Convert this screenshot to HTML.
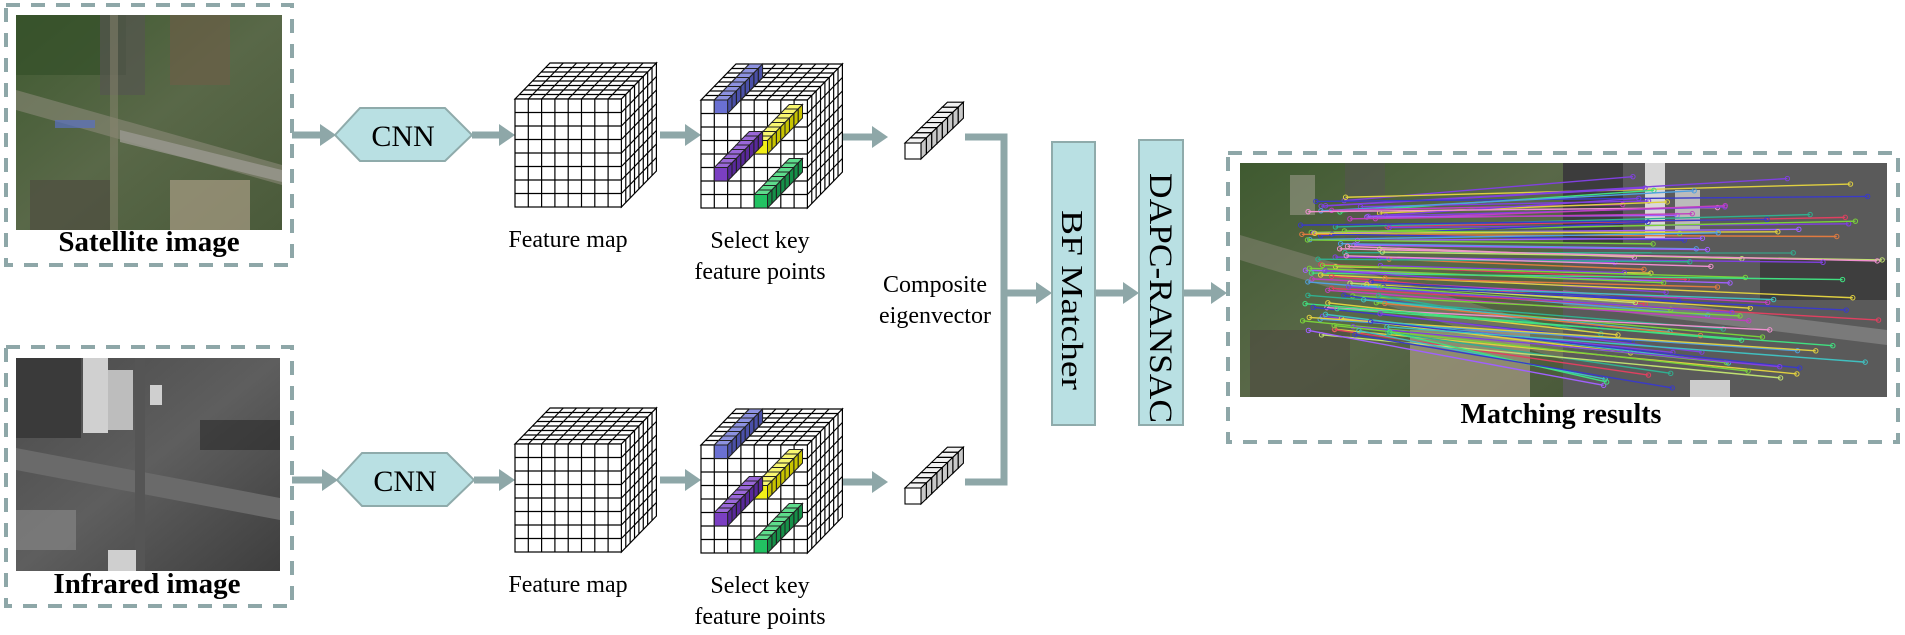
<!DOCTYPE html>
<html><head><meta charset="utf-8">
<style>
html,body{margin:0;padding:0;background:#fff;}
svg{display:block;}
text{font-family:"Liberation Serif",serif;fill:#000;}
</style></head>
<body>
<svg id="s" width="1905" height="635" viewBox="0 0 1905 635" xmlns="http://www.w3.org/2000/svg">
<defs>
<linearGradient id="satg" x1="0" y1="0" x2="1" y2="1">
<stop offset="0" stop-color="#3f5a30"/><stop offset="0.5" stop-color="#596848"/><stop offset="1" stop-color="#4a5a3a"/>
</linearGradient>
<linearGradient id="irg" x1="0" y1="0" x2="1" y2="1">
<stop offset="0" stop-color="#4a4a4a"/><stop offset="0.5" stop-color="#5e5e5e"/><stop offset="1" stop-color="#3e3e3e"/>
</linearGradient>
</defs>

<!-- Satellite box -->
<rect x="6" y="5" width="286" height="260" fill="none" stroke="#8ea7a8" stroke-width="4" stroke-dasharray="14 11"/>
<g id="sat">
<rect x="16" y="15" width="266" height="215" fill="url(#satg)"/>
<rect x="16" y="15" width="110" height="60" fill="#35502a" opacity="0.7"/>
<rect x="170" y="15" width="60" height="70" fill="#6e5e48" opacity="0.6"/>
<rect x="100" y="15" width="45" height="80" fill="#555550" opacity="0.7"/>
<polygon points="16,90 282,165 282,185 16,110" fill="#8a8878" opacity="0.6"/>
<polygon points="120,130 282,170 282,182 120,142" fill="#9a9890" opacity="0.8"/>
<rect x="110" y="15" width="8" height="215" fill="#8a8670" opacity="0.5"/>
<rect x="170" y="180" width="80" height="50" fill="#a89c84" opacity="0.7"/>
<rect x="30" y="180" width="80" height="50" fill="#4c4a40" opacity="0.6"/>
<rect x="55" y="120" width="40" height="8" fill="#5a70c0" opacity="0.7"/>
</g>
<text x="149" y="251" font-size="29" font-weight="bold" text-anchor="middle">Satellite image</text>

<!-- Infrared box -->
<rect x="6" y="347" width="286" height="259" fill="none" stroke="#8ea7a8" stroke-width="4" stroke-dasharray="14 11"/>
<g id="ir">
<rect x="16" y="358" width="264" height="213" fill="url(#irg)"/>
<rect x="83" y="358" width="25" height="75" fill="#d0d0d0"/>
<rect x="108" y="370" width="25" height="60" fill="#bdbdbd"/>
<rect x="150" y="385" width="12" height="20" fill="#cfcfcf"/>
<rect x="16" y="358" width="65" height="80" fill="#3a3a3a"/>
<polygon points="16,448 280,498 280,520 16,470" fill="#6a6a6a"/>
<rect x="135" y="358" width="10" height="213" fill="#555"/>
<rect x="16" y="510" width="60" height="40" fill="#8a8a8a" opacity="0.6"/>
<rect x="108" y="550" width="28" height="21" fill="#cfcfcf"/>
<rect x="200" y="420" width="80" height="30" fill="#2a2a2a" opacity="0.6"/>
</g>
<text x="147" y="593" font-size="29" font-weight="bold" text-anchor="middle">Infrared image</text>

<g id="dyn"></g>

<!-- Labels -->
<text x="568" y="247" font-size="24" text-anchor="middle">Feature map</text>
<text x="568" y="592" font-size="24" text-anchor="middle">Feature map</text>
<text x="760" y="248" font-size="24" text-anchor="middle">Select key</text>
<text x="760" y="279" font-size="24" text-anchor="middle">feature points</text>
<text x="760" y="593" font-size="24" text-anchor="middle">Select key</text>
<text x="760" y="624" font-size="24" text-anchor="middle">feature points</text>
<text x="935" y="292" font-size="24" text-anchor="middle">Composite</text>
<text x="935" y="323" font-size="24" text-anchor="middle">eigenvector</text>

<!-- CNN hexagons -->
<polygon points="335,135 360,108 445,108 472,135 445,161 360,161" fill="#b9e0e3" stroke="#8fabab" stroke-width="2"/>
<text x="403" y="146" font-size="30" text-anchor="middle">CNN</text>
<polygon points="337,480 362,453 447,453 474,480 447,506 362,506" fill="#b9e0e3" stroke="#8fabab" stroke-width="2"/>
<text x="405" y="491" font-size="30" text-anchor="middle">CNN</text>

<!-- connectors -->
<g fill="none" stroke="#8ea7a8" stroke-width="7">
<polyline points="965,137 1004,137 1004,482 965,482"/>
<line x1="1004" y1="293" x2="1040" y2="293"/>
</g>

<!-- BF / DAPC -->
<rect x="1052" y="142" width="43" height="283" fill="#b9e0e3" stroke="#8fabab" stroke-width="2"/>
<text transform="translate(1062,300) rotate(90)" font-size="31" text-anchor="middle" textLength="180" lengthAdjust="spacingAndGlyphs">BF Matcher</text>
<rect x="1139" y="140" width="44" height="285" fill="#b9e0e3" stroke="#8fabab" stroke-width="2"/>
<text transform="translate(1150,298) rotate(90)" font-size="33" text-anchor="middle" textLength="250" lengthAdjust="spacingAndGlyphs">DAPC-RANSAC</text>

<!-- Matching box -->
<rect x="1228" y="153" width="670" height="289" fill="none" stroke="#8ea7a8" stroke-width="4" stroke-dasharray="14 11"/>
<g id="match">
<rect x="1240" y="163" width="323" height="234" fill="url(#satg)"/>
<rect x="1290" y="175" width="25" height="40" fill="#9a9a88" opacity="0.6"/>
<rect x="1345" y="163" width="40" height="80" fill="#555550" opacity="0.6"/>
<polygon points="1240,235 1563,330 1563,360 1240,260" fill="#8a8878" opacity="0.5"/>
<rect x="1410" y="330" width="120" height="67" fill="#a89c84" opacity="0.7"/>
<rect x="1250" y="330" width="100" height="67" fill="#4c4a40" opacity="0.6"/>
<rect x="1563" y="163" width="324" height="234" fill="#5a5a5a"/>
<rect x="1645" y="163" width="20" height="75" fill="#d8d8d8"/>
<rect x="1675" y="190" width="25" height="40" fill="#bbb"/>
<rect x="1563" y="163" width="60" height="80" fill="#3c3c3c"/>
<polygon points="1563,290 1887,330 1887,345 1563,305" fill="#7a7a7a"/>
<rect x="1760" y="260" width="127" height="40" fill="#2c2c2c" opacity="0.6"/>
<rect x="1690" y="380" width="40" height="17" fill="#ccc"/>
<g id="mlines"></g>
</g>
<text x="1561" y="423" font-size="28" font-weight="bold" text-anchor="middle">Matching results</text>
</svg>
<script>
(function(){
var NS="http://www.w3.org/2000/svg";
var dyn=document.getElementById("dyn");
function el(tag,attrs,parent){var e=document.createElementNS(NS,tag);for(var k in attrs)e.setAttribute(k,attrs[k]);(parent||dyn).appendChild(e);return e;}
var AC="#8ea7a8";
function arrow(x1,x2,y){el("rect",{x:x1,y:y-3.5,width:x2-x1-14,height:7,fill:AC});el("polygon",{points:(x2-16)+","+(y-11)+" "+x2+","+y+" "+(x2-16)+","+(y+11),fill:AC});}
function pts(a){return a.map(function(p){return p[0].toFixed(1)+","+p[1].toFixed(1)}).join(" ");}
var CW=13.3,CH=13.5,N=8,DX=35/8,DY=-36/8;
function cube(x0,y0){
  var g=el("g",{stroke:"#000","stroke-width":1.2,fill:"#fff"});
  var W=CW*N,H=CH*N,dx=DX*N,dy=DY*N;
  el("polygon",{points:pts([[x0,y0],[x0+W,y0],[x0+W+dx,y0+dy],[x0+dx,y0+dy]])},g);
  el("polygon",{points:pts([[x0+W,y0],[x0+W+dx,y0+dy],[x0+W+dx,y0+H+dy],[x0+W,y0+H]])},g);
  el("rect",{x:x0,y:y0,width:W,height:H},g);
  var i;
  for(i=1;i<N;i++){
    el("line",{x1:x0+i*CW,y1:y0,x2:x0+i*CW,y2:y0+H},g);
    el("line",{x1:x0,y1:y0+i*CH,x2:x0+W,y2:y0+i*CH},g);
    el("line",{x1:x0+i*CW,y1:y0,x2:x0+i*CW+dx,y2:y0+dy},g);
    el("line",{x1:x0+i*DX,y1:y0+i*DY,x2:x0+W+i*DX,y2:y0+i*DY},g);
    el("line",{x1:x0+W+i*DX,y1:y0+i*DY,x2:x0+W+i*DX,y2:y0+H+i*DY},g);
    el("line",{x1:x0+W,y1:y0+i*CH,x2:x0+W+dx,y2:y0+i*CH+dy},g);
  }
}
function bar(x0,y0,col,row,len,c,ct,cs){
  var g=el("g",{stroke:"#222","stroke-width":1});
  for(var k=len-1;k>=0;k--){
    var x=x0+col*CW+k*DX,y=y0+row*CH+k*DY;
    el("polygon",{points:pts([[x,y],[x+CW,y],[x+CW+DX,y+DY],[x+DX,y+DY]]),fill:ct},g);
    el("polygon",{points:pts([[x+CW,y],[x+CW+DX,y+DY],[x+CW+DX,y+CH+DY],[x+CW,y+CH]]),fill:cs},g);
    el("rect",{x:x,y:y,width:CW,height:CH,fill:c},g);
  }
}
function keycube(x0,y0){
  cube(x0,y0);
  bar(x0,y0,1,0,8,"#6a70d2","#8d92e0","#4a50a8");
  bar(x0,y0,4,3,8,"#f3ef18","#f8f670","#c8c400");
  bar(x0,y0,1,5,8,"#7b3fc2","#9a68d8","#58289a");
  bar(x0,y0,4,7,8,"#22c262","#5edc8c","#159048");
}
function vec(x0,y0){
  var g=el("g",{stroke:"#000","stroke-width":1.1});
  var s=16,ddx=5.3,ddy=-5.1;
  for(var k=7;k>=0;k--){
    var x=x0+k*ddx,y=y0+k*ddy;
    el("polygon",{points:pts([[x,y],[x+s,y],[x+s+ddx,y+ddy],[x+ddx,y+ddy]]),fill:"#f2f2f2"},g);
    el("polygon",{points:pts([[x+s,y],[x+s+ddx,y+ddy],[x+s+ddx,y+s+ddy],[x+s,y+s]]),fill:"#c8c8c8"},g);
    el("rect",{x:x,y:y,width:s,height:s,fill:"#fff"},g);
  }
}
[0,345].forEach(function(o){
  arrow(292,336+(o?2:0),135+o);
  arrow(472+(o?2:0),515,135+o);
  cube(515,99+o);
  arrow(660,701,135+o);
  keycube(701,100+o);
  arrow(843,888,137+o);
  vec(905,143+o);
});
arrow(1004,1052,293);
arrow(1095,1139,293);
arrow(1183,1227,293);
var ml=document.getElementById("mlines");
var seed=7;function r(){seed=(seed*9301+49297)%233280;return seed/233280;}
var cols=["#7ad23a","#3a3ac8","#e07a40","#c040c0","#40c0c0","#e0d040","#8040e0","#40e080","#e04060","#f090d0","#50a0e0","#c0e070","#a060ff","#30b090"];
for(var i=0;i<95;i++){
  var t=i/95;
  var x1=1300+r()*90,y1=195+t*140+r()*10;
  var x2=1600+r()*285,y2=178+t*210+r()*15-5;
  if(y2>392)y2=392;
  var c=cols[Math.floor(r()*cols.length)];
  el("line",{x1:x1,y1:y1,x2:x2,y2:y2,stroke:c,"stroke-width":1.4},ml);
  el("circle",{cx:x1,cy:y1,r:2.2,fill:"none",stroke:c,"stroke-width":1},ml);
  el("circle",{cx:x2,cy:y2,r:2.2,fill:"none",stroke:c,"stroke-width":1},ml);
}
})();
</script>
</body></html>
